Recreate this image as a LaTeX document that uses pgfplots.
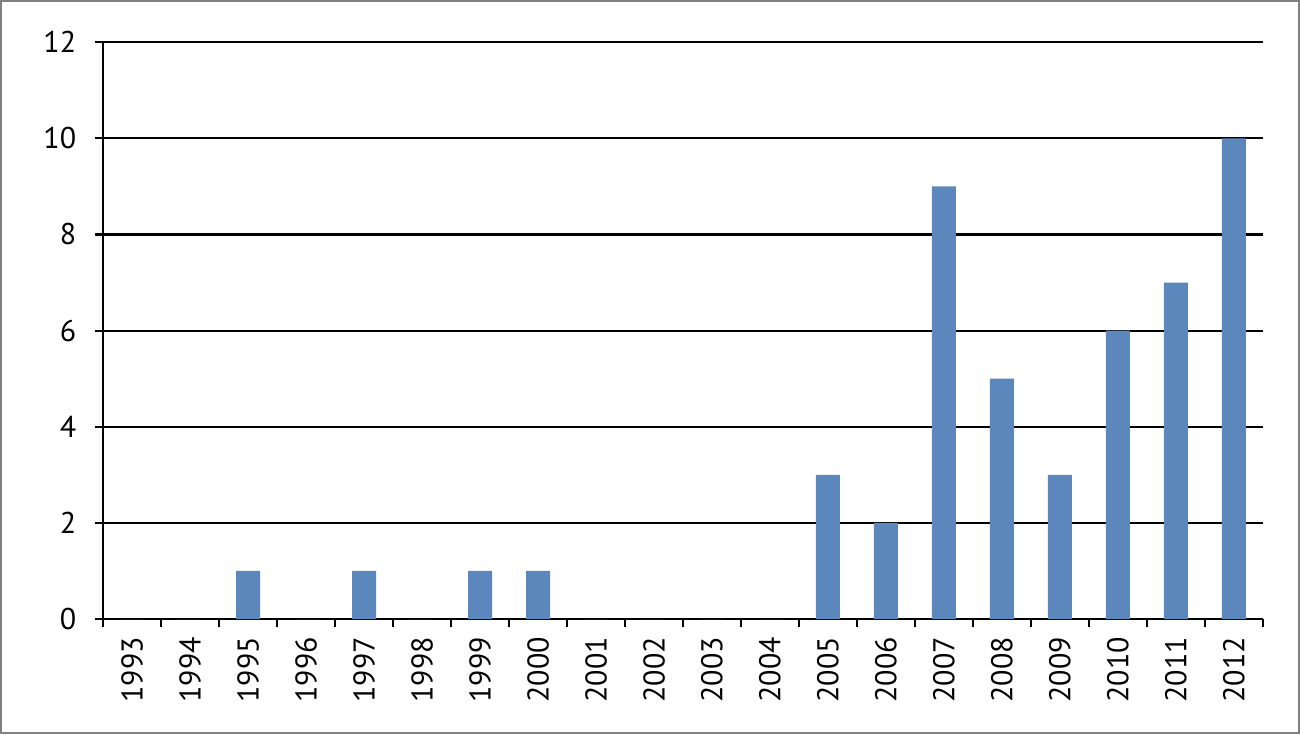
\documentclass[border=0pt]{standalone}
\usepackage{fontspec}
\setmainfont{PT Sans}
\usepackage{pgfplots}
\pgfplotsset{compat=1.18}
\definecolor{barblue}{RGB}{91,135,189}
\definecolor{framegray}{RGB}{128,128,128}
\begin{document}
\begin{tikzpicture}
\begin{axis}[
  scale only axis,
  width=580pt, height=288.5pt,
  xmin=-0.5, xmax=19.5,
  ymin=0, ymax=12,
  ytick={0,2,...,12},
  xtick={0,...,19},
  xticklabels={1993,1994,1995,1996,1997,1998,1999,2000,2001,2002,2003,2004,2005,2006,2007,2008,2009,2010,2011,2012},
  minor xtick={-0.5,0.5,...,19.5},
  major x tick style={draw=none},
  minor tick length=4pt,
  major tick length=4pt,
  tick align=outside,
  axis x line*=bottom,
  axis y line*=left,
  axis line style={line width=1.1pt, black},
  every tick/.style={line width=1.1pt, black},
  ymajorgrids,
  grid style={line width=1.1pt, black},
  x tick label style={rotate=90, anchor=east},
  xticklabel shift=1.5pt,
  yticklabel shift=6pt,
  tick label style={font=\fontsize{15}{17}\selectfont},
  /pgf/number format/assume math mode=true,
  clip=false,
]
\addplot[ybar, bar width=12pt, fill=barblue, draw=none] coordinates {
(0,0) (1,0) (2,1) (3,0) (4,1) (5,0) (6,1) (7,1) (8,0) (9,0)
(10,0) (11,0) (12,3) (13,2) (14,9) (15,5) (16,3) (17,6) (18,7) (19,10)
};
\end{axis}
\draw[framegray, line width=1.2pt] (-51.0pt,-57.0pt) rectangle (598.0pt,309.0pt);
\end{tikzpicture}
\end{document}
